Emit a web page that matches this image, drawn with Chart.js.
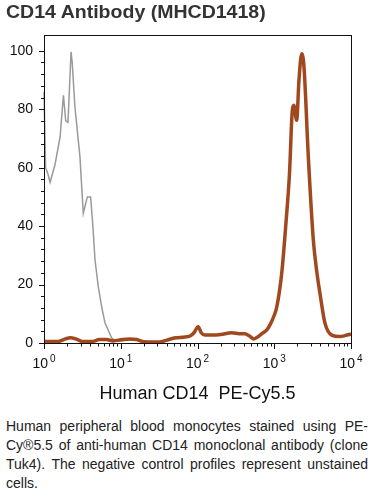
<!DOCTYPE html>
<html lang="en">
<head>
  <meta charset="UTF-8" />
  <title>CD14 Antibody (MHCD1418)</title>
  <script src="https://cdn.jsdelivr.net/npm/chart.js"></script>
  <style>
    body {
      margin: 0;
      background-color: #fff;
      font-family: "Liberation Sans", Arial, sans-serif;
      width: 375px;
      height: 496px;
      overflow: hidden;
      position: relative;
    }

    #title {
      position: absolute;
      left: 6px;
      top: 3px;
      font-size: 18px;
      line-height: 18px;
      font-weight: bold;
      color: #333;
      white-space: nowrap;
      transform: scaleX(1.085);
      transform-origin: left top;
    }

    #chart-box {
      position: absolute;
      left: 0;
      top: 0;
      width: 375px;
      height: 410px;
    }

    #caption {
      position: absolute;
      left: 6px;
      top: 417px;
      width: 362px;
      font-size: 14px;
      line-height: 19px;
      color: #222;
    }

    #caption span {
      display: block;
      white-space: nowrap;
      text-align: justify;
      text-align-last: justify;
    }

    #caption span.last {
      text-align-last: left;
    }
  </style>
</head>
<body>
  <div id="chart-box"><canvas id="myChart"></canvas></div>
  <div id="title">CD14 Antibody (MHCD1418)</div>
  <div id="caption">
    <span>Human peripheral blood monocytes stained using PE-</span>
    <span>Cy®5.5 of anti-human CD14 monoclonal antibody (clone</span>
    <span>Tuk4). The negative control profiles represent unstained</span>
    <span class="last">cells.</span>
  </div>

  <script>
    // unstained control (grey)
    const negX = [1.0, 1.05, 1.12, 1.2, 1.39, 1.62, 1.79, 1.92, 2.05, 2.09, 2.25, 2.33, 2.53, 2.94, 3.25, 3.67, 4.05, 4.31, 4.62, 5.1, 5.64, 6.24, 7.62, 8.85, 10.5, 13, 16, 20, 25, 32];
    const negY = [86, 60, 58, 55, 61, 70.5, 84.8, 76, 75.5, 80, 99.6, 96, 80.8, 63.7, 44.4, 50, 50, 41, 28.4, 19.2, 12.4, 6.8, 1.7, 0.6, 0.8, 1.2, 1.0, 0.8, 0.3, 0];

    // CD14 PE-Cy5.5 stained (brown)
    const cd14X = [1, 1.5, 1.9, 2.2, 2.6, 3.2, 4.2, 5.3, 6.5, 8, 10.5, 13, 16, 20, 25, 32, 40, 52, 65, 80, 90, 102, 112, 125, 160, 200, 280, 350, 415, 480, 540, 620, 690, 800, 880, 1000, 1080, 1250, 1420, 1580, 1720, 1800, 1960, 2100, 2280, 2440, 2780, 3230, 3600, 3940, 4580, 5600, 7200, 8500, 10000];
    const cd14Y = [0.5, 0.5, 1.4, 1.8, 1.4, 0.5, 0.5, 1.2, 1.2, 0.7, 1.2, 1.4, 1.2, 0.4, 0.3, 0.3, 1.0, 1.8, 2.0, 2.4, 3.5, 5.6, 3.5, 2.7, 2.7, 2.9, 3.5, 3.2, 3.2, 2.3, 1.4, 2.2, 3.2, 4.5, 6.2, 9.5, 12.4, 23.8, 41, 58, 79.7, 81.4, 76.2, 90, 99, 94.5, 63.7, 35.2, 24, 17, 6.8, 2.7, 2.2, 2.6, 3.1];

    const yLabels = [0, 20, 40, 60, 80, 100];
    const decades = [0, 1, 2, 3, 4];

    const toPoints = (xs, ys) => xs.map((x, i) => ({ x: x, y: ys[i] }));

    // frame, tick marks and 10^n labels
    const framePlugin = {
      id: 'frame',
      afterDraw(chart) {
        const ctx = chart.ctx;
        const area = chart.chartArea;
        const xs = chart.scales.x;
        const ys = chart.scales.y;
        ctx.save();
        ctx.strokeStyle = '#111';
        ctx.lineWidth = 1;
        ctx.strokeRect(Math.round(area.left) + 0.5, Math.round(area.top) + 0.5,
          Math.round(area.right - area.left), Math.round(area.bottom - area.top));

        ctx.beginPath();
        for (let v = 0; v <= 100; v += 4) {
          const py = Math.round(ys.getPixelForValue(v)) + 0.5;
          const len = v % 20 === 0 ? 5 : 3;
          ctx.moveTo(area.left - len, py);
          ctx.lineTo(area.left, py);
        }
        decades.forEach(d => {
          const base = Math.pow(10, d);
          const px = Math.round(xs.getPixelForValue(base)) + 0.5;
          ctx.moveTo(px, area.bottom);
          ctx.lineTo(px, area.bottom + 6);
          if (d < 4) {
            for (let m = 2; m <= 9; m++) {
              const mx = Math.round(xs.getPixelForValue(m * base)) + 0.5;
              ctx.moveTo(mx, area.bottom);
              ctx.lineTo(mx, area.bottom + 3.5);
            }
          }
        });
        ctx.stroke();

        ctx.fillStyle = '#111';
        ctx.textBaseline = 'alphabetic';
        decades.forEach(d => {
          const px = xs.getPixelForValue(Math.pow(10, d));
          ctx.font = '14px "Liberation Sans", Arial, sans-serif';
          const w1 = ctx.measureText('10').width;
          ctx.font = '10px "Liberation Sans", Arial, sans-serif';
          const w2 = ctx.measureText(String(d)).width;
          const start = px - (w1 + 2 + w2) / 2;
          ctx.font = '14px "Liberation Sans", Arial, sans-serif';
          ctx.fillText('10', start, area.bottom + 25);
          ctx.font = '10px "Liberation Sans", Arial, sans-serif';
          ctx.fillText(String(d), start + w1 + 2, area.bottom + 19);
        });
        ctx.restore();
      }
    };

    const ctx = document.getElementById('myChart').getContext('2d');
    new Chart(ctx, {
      type: 'line',
      data: {
        datasets: [
          {
            label: 'CD14 PE-Cy5.5',
            data: toPoints(cd14X, cd14Y),
            borderColor: '#A0481E',
            borderWidth: 3.5,
            pointRadius: 0,
            cubicInterpolationMode: 'monotone',
            clip: false
          },
          {
            label: 'Unstained',
            data: toPoints(negX, negY),
            borderColor: '#9a9a9a',
            borderWidth: 1.5,
            pointRadius: 0,
            tension: 0,
            clip: false
          }
        ]
      },
      options: {
        responsive: true,
        maintainAspectRatio: false,
        animation: false,
        layout: {
          padding: { top: 35, right: 24, left: 0, bottom: 0 }
        },
        scales: {
          x: {
            type: 'logarithmic',
            min: 1,
            max: 10000,
            grid: { display: false, drawTicks: false },
            border: { display: false },
            ticks: { display: false },
            afterFit(scale) { scale.height = 67; },
            title: {
              display: true,
              text: 'Human CD14  PE-Cy5.5',
              color: '#111',
              font: { family: '"Liberation Sans", Arial, sans-serif', size: 18 },
              padding: { top: 0, bottom: 5 }
            }
          },
          y: {
            min: 0,
            max: 105.4,
            grid: { display: false, drawTicks: false },
            border: { display: false },
            afterBuildTicks(scale) {
              scale.ticks = yLabels.map(v => ({ value: v }));
            },
            afterFit(scale) { scale.width = 44; },
            ticks: {
              color: '#111',
              padding: 11,
              font: { family: '"Liberation Sans", Arial, sans-serif', size: 14 }
            }
          }
        },
        plugins: {
          legend: { display: false },
          tooltip: { enabled: false }
        }
      },
      plugins: [framePlugin]
    });
  </script>
</body>
</html>
